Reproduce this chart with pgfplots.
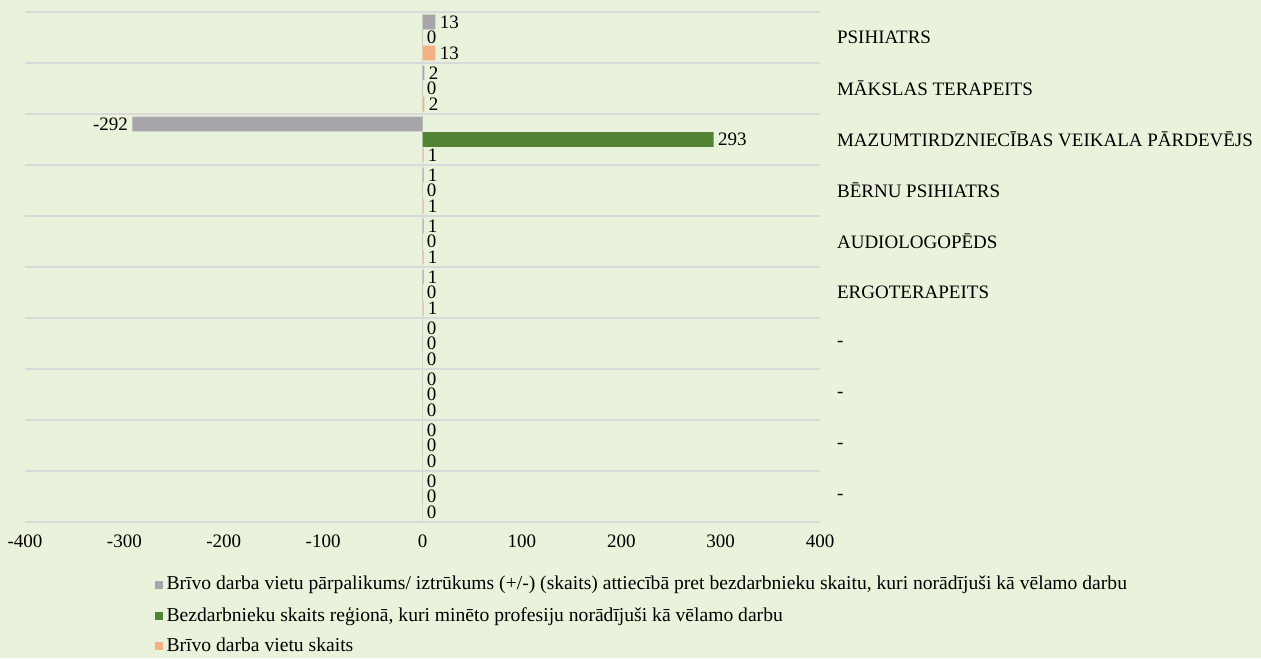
\documentclass[border=0pt]{standalone}
\usepackage{pgfplots}
\pgfplotsset{compat=1.18}
\usepackage{fontspec}
\setmainfont{Liberation Serif}
\definecolor{bg}{HTML}{E9F2DA}
\definecolor{cgray}{HTML}{A7A5A9}
\definecolor{cgreen}{HTML}{548235}
\definecolor{corange}{HTML}{F4B183}
\definecolor{gridc}{HTML}{D9D9D9}
\begin{document}
\begin{tikzpicture}
\fill[bg] (0,0) rectangle (630.5pt,-329pt);
\useasboundingbox (0,0) rectangle (630.5pt,-329pt);
\begin{axis}[
  at={(12.5pt,-6pt)}, anchor=north west,
  scale only axis, width=397.5pt, height=255pt,
  xmin=-400, xmax=400, ymin=-0.5, ymax=9.5, y dir=reverse,
  xbar, bar width=7.4pt,
  axis line style={draw=none},
  xtick={-400,-300,...,400},
  ytick={0,...,9},
  yticklabels={PSIHIATRS,MĀKSLAS TERAPEITS,MAZUMTIRDZNIECĪBAS VEIKALA PĀRDEVĒJS,BĒRNU PSIHIATRS,AUDIOLOGOPĒDS,ERGOTERAPEITS,-,-,-,-},
  yticklabel pos=right,
  yticklabel style={anchor=west, xshift=5pt, font=\fontsize{9.5}{10}\selectfont},
  xticklabel style={font=\fontsize{9.5}{10}\selectfont, yshift=-3pt},
  /pgf/number format/assume math mode=true,
  major tick length=0pt,
  extra y ticks={-0.5,0.5,...,9.5},
  extra y tick labels={},
  extra y tick style={grid=major, major grid style={gridc, line width=0.8pt}},
  extra x ticks={0},
  extra x tick labels={},
  extra x tick style={grid=major, major grid style={gridc, line width=0.8pt}},
  nodes near coords,
  every node near coord/.append style={font=\fontsize{9.5}{10}\selectfont, black, inner xsep=2pt, inner ysep=0pt},
  legend style={at={(0.155,-0.09)}, anchor=north west, draw=none, fill=none,
    font=\fontsize{9.8}{10}\selectfont, row sep=3pt, legend cell align=left},
  legend cell align=left,
  legend image code/.code={\path[#1,draw=none] (0pt,-2pt) rectangle (4pt,2pt);},
]
\addplot[fill=cgray, draw=none, bar shift=7.75pt] coordinates {
(13,0) (2,1) (-292,2) (1,3) (1,4) (1,5) (0,6) (0,7) (0,8) (0,9)};
\addplot[fill=cgreen, draw=none, bar shift=0pt] coordinates {
(0,0) (0,1) (293,2) (0,3) (0,4) (0,5) (0,6) (0,7) (0,8) (0,9)};
\addplot[fill=corange, draw=none, bar shift=-7.75pt] coordinates {
(13,0) (2,1) (1,2) (1,3) (1,4) (1,5) (0,6) (0,7) (0,8) (0,9)};
\legend{{Brīvo darba vietu pārpalikums/ iztrūkums (+/-) (skaits) attiecībā pret bezdarbnieku skaitu, kuri norādījuši kā vēlamo darbu},
{Bezdarbnieku skaits reģionā, kuri minēto profesiju norādījuši kā vēlamo darbu},
{Brīvo darba vietu skaits}}
\end{axis}
\end{tikzpicture}
\end{document}
